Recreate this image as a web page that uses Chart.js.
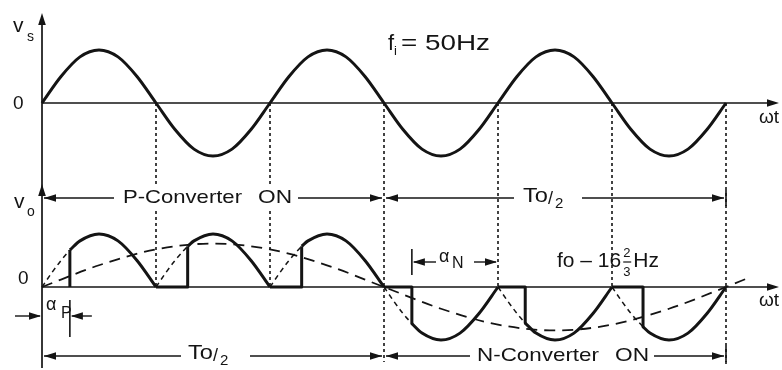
<!DOCTYPE html>
<html>
<head>
<meta charset="utf-8">
<script src="https://cdn.jsdelivr.net/npm/chart.js@4/dist/chart.umd.min.js"></script>
<style>
  html, body { margin: 0; padding: 0; background: #fff; }
  canvas { display: block; }
</style>
</head>
<body>
<canvas id="chart" width="782" height="370"></canvas>
<script>
"use strict";

// supply voltage v_s (per unit of its peak), read every 30 deg of wt
let inputAngles = [0, 30, 60, 90, 120, 150, 180, 210, 240, 270, 300, 330,
  360, 390, 420, 450, 480, 510, 540, 570, 600, 630, 660, 690,
  720, 750, 780, 810, 840, 870, 900, 930, 960, 990, 1020, 1050, 1080];
let vsValues = [0, 0.5, 0.87, 1, 0.87, 0.5, 0, -0.5, -0.87, -1, -0.87, -0.5,
  0, 0.5, 0.87, 1, 0.87, 0.5, 0, -0.5, -0.87, -1, -0.87, -0.5,
  0, 0.5, 0.87, 1, 0.87, 0.5, 0, -0.5, -0.87, -1, -0.87, -0.5, 0];

// output v_o: conducting arcs (null = break between arcs)
let voArcAngles = [44, 60, 90, 120, 150, 180, 180,
  230, 240, 270, 300, 330, 360, 360,
  410, 420, 450, 480, 510, 540, 540,
  584, 600, 630, 660, 690, 720, 720,
  763, 780, 810, 840, 870, 900, 900,
  949, 960, 990, 1020, 1050, 1080];
let voArcValues = [0.70, 0.87, 1, 0.87, 0.5, 0, null,
  0.77, 0.87, 1, 0.87, 0.5, 0, null,
  0.77, 0.87, 1, 0.87, 0.5, 0, null,
  -0.69, -0.87, -1, -0.87, -0.5, 0, null,
  -0.68, -0.87, -1, -0.87, -0.5, 0, null,
  -0.75, -0.87, -1, -0.87, -0.5, 0];

// output v_o: zero intervals and firing steps
let voStepAngles = [44, 44, 44, 180, 230, 230, 230, 360, 410, 410, 410,
  540, 584, 584, 584, 720, 763, 763, 763, 900, 949, 949];
let voStepValues = [0, 0.70, null, 0, 0, 0.77, null, 0, 0, 0.77, null,
  0, 0, -0.69, null, 0, 0, -0.68, null, 0, 0, -0.75];

// supply wave before firing (dashed)
let delayAngles = [0, 15, 30, 44, 44, 180, 195, 210, 230, 230,
  360, 375, 390, 410, 410, 540, 555, 570, 584, 584,
  720, 735, 750, 763, 763, 900, 915, 930, 949];
let delayValues = [0, 0.26, 0.5, 0.70, null, 0, 0.26, 0.5, 0.77, null,
  0, 0.26, 0.5, 0.77, null, 0, -0.26, -0.5, -0.69, null,
  0, -0.26, -0.5, -0.68, null, 0, -0.26, -0.5, -0.75];

// wanted output fundamental f_o (dashed)
let foAngles = [0, 90, 180, 270, 360, 450, 540, 630, 720, 810, 900, 990, 1080, 1115];
let foValues = [0, 0.41, 0.71, 0.82, 0.71, 0.41, 0, -0.41, -0.71, -0.82, -0.71, -0.41, 0, 0.17];

let dividerAngles = [180, 360, 540, 720, 900, 1080];
let longDividers = [540, 1080];

const INK = "#141414";
const FONT = '"Liberation Sans", Arial, sans-serif';

function toPoints(xs, ys) {
  return xs.map((x, i) => ({ x: x, y: ys[i] }));
}

// layout: 0 deg at 42px, 1080 deg at 726px; 53px per unit
const degPerPx = 1080 / 684;
const unitPx = 53;

function arrowHead(ctx, x, y, dir) {
  const L = 12, W = 3.8;
  ctx.beginPath();
  ctx.moveTo(x, y);
  if (dir === "r") { ctx.lineTo(x - L, y - W); ctx.lineTo(x - L, y + W); }
  if (dir === "l") { ctx.lineTo(x + L, y - W); ctx.lineTo(x + L, y + W); }
  if (dir === "u") { ctx.lineTo(x - W, y + L); ctx.lineTo(x + W, y + L); }
  ctx.closePath();
  ctx.fill();
}

function seg(ctx, x1, y1, x2, y2, w, dash) {
  ctx.save();
  ctx.lineWidth = w;
  ctx.setLineDash(dash || []);
  ctx.beginPath();
  ctx.moveTo(x1, y1);
  ctx.lineTo(x2, y2);
  ctx.stroke();
  ctx.restore();
}

// draws text, optionally stretched to a given width; returns drawn width
function txt(ctx, s, x, y, size, fitW, mask) {
  ctx.save();
  ctx.font = size + "px " + FONT;
  ctx.textAlign = "left";
  ctx.textBaseline = "middle";
  let w = ctx.measureText(s).width;
  let k = fitW ? fitW / w : 1;
  if (mask) {
    ctx.fillStyle = "#fff";
    ctx.fillRect(x - 3, y - size * 0.6, w * k + 6, size * 1.2);
  }
  ctx.fillStyle = INK;
  ctx.translate(x, y);
  ctx.scale(k, 1);
  ctx.fillText(s, 0, 0);
  ctx.restore();
  return w * k;
}

function toHalf(ctx, x, y) {
  ctx.fillStyle = "#fff";
  ctx.fillRect(x - 3, y - 12, 54, 28);
  ctx.fillStyle = INK;
  let w = txt(ctx, "To", x, y, 21, 25);
  txt(ctx, "/", x + w, y + 3, 18, 0);
  txt(ctx, "2", x + w + 7, y + 8, 15, 0);
}

const deco = {
  id: "deco",
  beforeDatasetsDraw(chart) {
    const ctx = chart.ctx;
    const sx = chart.scales.x, ss = chart.scales.ys, so = chart.scales.yo;
    const x0 = sx.getPixelForValue(0);
    const ys0 = ss.getPixelForValue(0), yo0 = so.getPixelForValue(0);
    ctx.save();
    ctx.strokeStyle = INK;
    ctx.fillStyle = INK;
    // axes
    seg(ctx, x0, ys0, 770, ys0, 1.4);
    arrowHead(ctx, 779, ys0, "r");
    seg(ctx, x0, yo0, 770, yo0, 1.4);
    arrowHead(ctx, 779, yo0, "r");
    seg(ctx, x0, 20, x0, 368, 1.7);
    arrowHead(ctx, x0, 13, "u");
    arrowHead(ctx, x0, 184, "u");
    // dotted dividers at supply zero crossings
    for (let a of dividerAngles) {
      let x = sx.getPixelForValue(a);
      let yEnd = longDividers.includes(a) ? 362 : yo0;
      seg(ctx, x, ys0, x, yEnd, 1.6, [3, 3]);
    }
    ctx.restore();
  },
  afterDatasetsDraw(chart) {
    const ctx = chart.ctx;
    const sx = chart.scales.x;
    const x0 = sx.getPixelForValue(0);
    const xHalf = sx.getPixelForValue(540);
    const xEnd = sx.getPixelForValue(1080);
    ctx.save();
    ctx.strokeStyle = INK;
    ctx.fillStyle = INK;

    // row 1: P-Converter ON | To/2
    let r1 = 198;
    seg(ctx, x0 + 2, r1, 114, r1, 1.4);
    arrowHead(ctx, x0 + 2, r1, "l");
    seg(ctx, 298, r1, xHalf - 2, r1, 1.4);
    arrowHead(ctx, xHalf - 2, r1, "r");
    seg(ctx, xHalf + 2, r1, 514, r1, 1.4);
    arrowHead(ctx, xHalf + 2, r1, "l");
    seg(ctx, 582, r1, xEnd - 2, r1, 1.4);
    arrowHead(ctx, xEnd - 2, r1, "r");
    seg(ctx, xEnd, r1 - 8, xEnd, r1 + 8, 1.6);
    ctx.fillStyle = "#fff";
    ctx.fillRect(118, r1 - 11, 178, 22);
    ctx.fillStyle = INK;
    txt(ctx, "P-Converter", 123, r1, 19, 119);
    txt(ctx, "ON", 258, r1, 19, 34);
    toHalf(ctx, 523, r1 - 2);

    // row 2: To/2 | N-Converter ON
    let r2 = 356;
    seg(ctx, x0 + 2, r2, 181, r2, 1.4);
    arrowHead(ctx, x0 + 2, r2, "l");
    seg(ctx, 250, r2, xHalf - 2, r2, 1.4);
    arrowHead(ctx, xHalf - 2, r2, "r");
    seg(ctx, xHalf + 2, r2, 470, r2, 1.4);
    arrowHead(ctx, xHalf + 2, r2, "l");
    seg(ctx, 654, r2, xEnd - 2, r2, 1.4);
    arrowHead(ctx, xEnd - 2, r2, "r");
    seg(ctx, xEnd, r2 - 10, xEnd, r2 + 8, 1.6);
    toHalf(ctx, 188, r2 - 3);
    txt(ctx, "N-Converter", 477, r2, 19, 122, true);
    txt(ctx, "ON", 615, r2, 19, 34, true);

    // alpha_P
    let ap = sx.getPixelForValue(44), ra = 316;
    seg(ctx, 15, ra, x0 - 2, ra, 1.4);
    arrowHead(ctx, x0 - 1, ra, "r");
    seg(ctx, ap + 22, ra, ap + 2, ra, 1.4);
    arrowHead(ctx, ap + 1, ra, "l");
    seg(ctx, ap, 300, ap, 337, 1.6);
    txt(ctx, "\u03b1", 46, 305, 18, 0);
    txt(ctx, "P", 61, 314, 16, 0);

    // alpha_N
    let an = sx.getPixelForValue(584), rn = 262, xz = sx.getPixelForValue(720);
    seg(ctx, an, 249, an, 275, 1.6);
    seg(ctx, an + 2, rn, 436, rn, 1.4);
    arrowHead(ctx, an + 1, rn, "l");
    seg(ctx, 474, rn, xz - 2, rn, 1.4);
    arrowHead(ctx, xz - 1, rn, "r");
    txt(ctx, "\u03b1", 439, 257, 18, 0);
    txt(ctx, "N", 452, 264, 16, 0);

    // labels
    txt(ctx, "v", 13, 26, 21, 0);
    txt(ctx, "s", 27, 37, 14, 0);
    txt(ctx, "0", 13, 104, 19, 0);
    txt(ctx, "v", 14, 202, 21, 0);
    txt(ctx, "o", 27, 212, 14, 0);
    txt(ctx, "0", 18, 279, 19, 0);
    txt(ctx, "\u03c9t", 759, 118, 19, 0);
    txt(ctx, "\u03c9t", 759, 301, 19, 0);

    let w = txt(ctx, "f", 388, 44, 22, 0);
    txt(ctx, "i", 388 + w, 51, 13, 0);
    txt(ctx, "= 50Hz", 401, 44, 22, 89);

    let fx = 557, fy = 261;
    w = txt(ctx, "fo \u2013 16", fx, fy, 21, 0);
    let fr = fx + w + 2;
    txt(ctx, "2", fr, 253, 13, 0);
    seg(ctx, fr, fy + 1, fr + 8, fy + 1, 1.2);
    txt(ctx, "3", fr, 272, 13, 0);
    txt(ctx, "Hz", fr + 10, fy, 21, 0);

    ctx.restore();
  }
};

let chart = new Chart(document.getElementById("chart"), {
  type: "line",
  data: {
    datasets: [
      { label: "vs", yAxisID: "ys", data: toPoints(inputAngles, vsValues),
        borderWidth: 3, cubicInterpolationMode: "monotone" },
      { label: "vo", yAxisID: "yo", data: toPoints(voArcAngles, voArcValues),
        borderWidth: 3, cubicInterpolationMode: "monotone" },
      { label: "vo steps", yAxisID: "yo", data: toPoints(voStepAngles, voStepValues),
        borderWidth: 3, tension: 0 },
      { label: "fo", yAxisID: "yo", data: toPoints(foAngles, foValues),
        borderWidth: 1.8, borderDash: [11, 7], cubicInterpolationMode: "monotone" },
      { label: "delay", yAxisID: "yo", data: toPoints(delayAngles, delayValues),
        borderWidth: 1.5, borderDash: [5, 4], cubicInterpolationMode: "monotone" }
    ]
  },
  options: {
    responsive: false,
    animation: false,
    devicePixelRatio: 1,
    layout: { padding: 0 },
    elements: {
      point: { radius: 0, hoverRadius: 0 },
      line: { borderColor: INK, fill: false, borderJoinStyle: "round", borderCapStyle: "butt" }
    },
    plugins: { legend: { display: false }, tooltip: { enabled: false } },
    scales: {
      x: { type: "linear", display: false, min: -42 * degPerPx, max: (782 - 42) * degPerPx },
      ys: { type: "linear", display: false, min: -(370 - 103) / unitPx, max: 103 / unitPx },
      yo: { type: "linear", display: false, min: -(370 - 287) / unitPx, max: 287 / unitPx }
    }
  },
  plugins: [deco]
});
</script>
</body>
</html>
